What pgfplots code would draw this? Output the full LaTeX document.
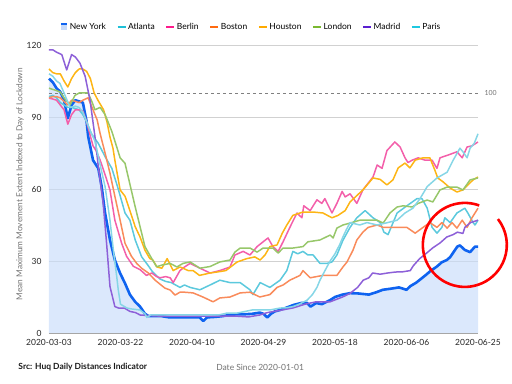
\documentclass[border=0pt]{standalone}
\usepackage{pgfplots}
\usepackage{pgfplotstable}
\pgfplotsset{compat=1.18}
\usepackage{fontspec}
\setmainfont{Lato}
\definecolor{nyblue}{HTML}{0F63F0}
\definecolor{nyfill}{HTML}{C8DCFA}
\definecolor{nyleg}{HTML}{C6DAFA}
\definecolor{cAtl}{HTML}{5CC9DD}
\definecolor{cPar}{HTML}{86D6E6}
\definecolor{cBer}{HTML}{F35FAA}
\definecolor{cBos}{HTML}{F98B5B}
\definecolor{cHou}{HTML}{FDB515}
\definecolor{cLon}{HTML}{97C76A}
\definecolor{cMad}{HTML}{8D60D8}
\definecolor{lAtl}{HTML}{1EC0D8}
\definecolor{lPar}{HTML}{1EC8E0}
\definecolor{lBer}{HTML}{FF1A8C}
\definecolor{lBos}{HTML}{FF6A10}
\definecolor{lHou}{HTML}{FFAA00}
\definecolor{lLon}{HTML}{7AB830}
\definecolor{lMad}{HTML}{5A20D0}
\pgfplotstableread{
x y
0 106
1 104.5
2 102
3 100.5
4 97
5 89.5
6 95
7 97
8 96.5
9 96
10 88
10.4 82
11.7 72
13.1 68.6
14 61
14.9 50
16.2 38.8
17.5 30.4
18.9 24.9
20.2 20.7
21.5 16
22.9 13
24.2 11
25.5 8
26.5 7
28 7
30 7
32 6.5
34 6.5
36 6.5
38 6.5
40 6.5
41 5
42 6.5
44 6.7
46 7
48 7.5
50 7.8
52 7.8
54 8
56 8.5
57 8
58 6.5
59 8
60 9
61.4 9.6
63 10.5
65 11.7
67 12.5
68.6 12.5
69.5 11
71 12.5
72.5 12
74.7 13.7
76 15
78 16
80 16.6
82 16.5
85 16
87 17
88.7 18
91 18.5
93 19
95 18
96 19.5
97.6 21
100 24
101.5 26
103 27.6
104.4 29.5
105.7 30.4
106.6 31.6
107.5 33.7
108.5 36
109.2 36.5
110.5 34.6
111.9 33.7
113.2 36
114 36
}\nydata
\begin{document}
\begin{tikzpicture}
\useasboundingbox (0,0) rectangle (512bp,384bp);
\begin{axis}[
  at={(49bp,51bp)}, anchor=south west,
  scale only axis, width=429bp, height=288bp,
  xmin=0, xmax=114, ymin=0, ymax=120,
  clip=false,
  axis lines*=left,
  x axis line style={draw=black!35, line width=0.8bp},
  y axis line style={draw=none},
  ymajorgrids, grid style={draw=black!18, line width=0.7bp},
  major tick length=0pt,
  xtick={0,19,38,57,76,95,114},
  xticklabels={2020-03-03,2020-03-22,2020-04-10,2020-04-29,2020-05-18,2020-06-06,2020-06-25},
  ytick={0,30,60,90,120},
  /pgf/number format/assume math mode=true,
  tick label style={font=\fontsize{8.5}{10}\selectfont, text=black!85},
  xticklabel style={yshift=-2.5bp},
  yticklabel style={xshift=-4bp},
  xlabel={Date Since 2020-01-01},
  xlabel style={at={(axis description cs:0.492,-0.118)}, anchor=center, font=\fontsize{8.5}{10}\selectfont, text=black!55},
  ylabel={Mean Maximum Movement Extent Indexed to Day of Lockdown},
  ylabel style={at={(axis description cs:-0.0676,0.517)}, anchor=center, font=\fontsize{8.3}{10}\selectfont, text=black!55},
  legend columns=8,
  legend style={at={(axis description cs:0.472,1.0625)}, anchor=center, draw=none, fill=none,
    font=\fontsize{8.5}{10}\selectfont, /tikz/every even column/.append style={column sep=9bp}},
  legend cell align=left,
]
\addplot[draw=none, fill=nyfill, fill opacity=0.65, forget plot] table[x=x,y=y]{\nydata} \closedcycle;
\addplot[forget plot, draw=black!50, line width=0.8bp, dash pattern=on 3bp off 3bp] coordinates {(0,100)(114,100)};
\addplot[nyblue, line width=2.6bp, line join=round,
  legend image code/.code={\path[fill=nyleg, draw=none] (1bp,-3.5bp) rectangle (7bp,3bp); \path[draw=nyblue, line width=1.2bp, solid] (1bp,3bp) -- (7bp,3bp);}]
  table[x=x,y=y]{\nydata};
\addlegendentry{New York}
\addplot[cAtl, line width=1.5bp, line join=round,
  legend image code/.code={\draw[lAtl, line width=1.2bp] (0bp,0bp) -- (8bp,0bp);}]
  coordinates {(0,98.5)(1,99)(2,98)(3,96)(4,95)(5,94)(6,94)(7,93.5)(8,93)(9,91)(10,88)(11.3,83)(13.1,79)(14.9,73.5)(16.7,68.6)(18.4,60)(20.2,50)(21.5,47)(22.9,38.8)(24.6,31.8)(26.4,28)(27.5,25.5)(29.5,22.5)(31,21.5)(32.5,21)(34.8,19)(36,20)(37.5,19)(40.1,18)(42.8,20)(45.4,22)(48.1,21)(50.8,21)(53.4,18)(54.2,16)(56.1,21)(58.7,19)(61.4,22)(63.2,26)(64.8,34)(66.1,33)(67.5,34)(68.8,32.5)(70.2,32.5)(72,29)(73.9,29)(75.2,29.6)(76.5,32.5)(78.1,38.6)(80,44)(81.8,48)(84,51)(86.1,48)(88,46)(89,42)(90.1,41)(92.5,50)(95.1,53)(97.8,56)(99.1,56)(100.5,52)(101.8,44)(103.1,41.6)(104.4,44)(105.2,48)(106.6,46)(108.4,50)(110.5,52)(111.3,50)(112.7,46)(113.2,45)(114,47)};
\addlegendentry{Atlanta}
\addplot[cBer, line width=1.5bp, line join=round,
  legend image code/.code={\draw[lBer, line width=1.2bp] (0bp,0bp) -- (8bp,0bp);}]
  coordinates {(0,97.9)(1,97.5)(2,97)(3,95)(4,93)(5,87)(6,91)(7,93)(8,93)(9,92.5)(10,88)(11,82)(11.7,78)(12.5,76)(13.6,72)(14.9,66)(16.2,59.6)(17.5,47)(19.3,37.4)(20.6,32)(22.4,27.8)(24.2,26.4)(25.9,24)(27.3,25)(28.6,23.5)(29.5,23)(31,23.5)(32.2,23)(33,21)(34.8,26)(36,27.5)(37.5,29)(40.1,27)(42.8,25)(45.4,26)(48.1,27.5)(49.4,32.5)(51.6,34)(53.4,32.5)(55.3,36)(56.9,38)(58.2,39.6)(59.5,36)(60.9,34)(62.2,38)(64,44)(65.9,50)(67.2,48)(67.7,53)(69.4,51)(71.2,55.5)(72.5,54)(73.3,56)(75.2,50)(76.5,54)(77.9,59)(78.7,56.7)(80,58)(81.8,54)(83.4,59.6)(86.1,65)(87.2,70)(88.5,68.6)(89.8,76)(91.9,79.6)(93.3,77.5)(94.6,73)(95.4,71)(96.5,72)(98.1,73)(99.9,72)(101.8,72)(103.1,68.6)(103.9,73)(105.8,74)(108.4,75.5)(109.8,73)(111.1,77.5)(112.4,78)(114,79.6)};
\addlegendentry{Berlin}
\addplot[cBos, line width=1.5bp, line join=round,
  legend image code/.code={\draw[lBos, line width=1.2bp] (0bp,0bp) -- (8bp,0bp);}]
  coordinates {(0,98)(1,98.5)(2,98.5)(3,98)(4,96.5)(5,95)(6,97)(7,96.5)(8,96)(9,97)(10.4,98)(11.7,93)(12.8,88.75)(13.6,83)(14.9,75)(16.2,66.6)(17.5,57)(18.9,47)(20.2,37.4)(21.9,32)(23.3,29)(24.6,27)(26.4,25)(28.2,22)(30.8,18.7)(32.2,17.9)(33.5,15.8)(34.8,17)(36,17)(38.3,16.7)(40.9,15)(43.6,13)(45.4,14.6)(48.1,15)(50.8,16.7)(53.4,17)(56,15)(58.7,16)(60.6,19)(62.2,20)(64,22)(66.7,24)(67.5,26)(69.4,23)(72.8,24)(76.5,24)(78.1,27.5)(79.2,29.6)(80.8,34.6)(81.8,38.75)(83.4,42)(84.8,44)(87.2,45)(88.8,44)(92.5,44)(95.1,44)(97.3,41.6)(99.4,44)(101.2,46)(103.1,44)(104.4,46)(105.8,43.7)(107.1,46)(108.4,43.7)(109.8,47)(111.1,44)(112.4,48)(114,52)};
\addlegendentry{Boston}
\addplot[cHou, line width=1.5bp, line join=round,
  legend image code/.code={\draw[lHou, line width=1.2bp] (0bp,0bp) -- (8bp,0bp);}]
  coordinates {(0,110)(1,108.5)(2,108)(3,108)(4,105)(5,102.5)(6,106)(7,108.5)(8,110)(9,110)(10,109)(11,106)(12,100)(13,97)(14.5,93)(15.4,88)(16.2,81.7)(17,77)(17.5,72)(18.9,59.6)(20.2,57)(21.5,51)(22.9,44.3)(24.2,40)(25.5,34.5)(26.8,31)(27.6,30.4)(28.7,27.5)(30,27)(31.4,31)(33,26)(34.8,27.5)(35.6,27)(37,26)(38.3,26)(40,24)(42.8,25)(44.6,25.4)(47,26)(50,29.6)(52.6,31)(54.7,31.7)(56.1,30.4)(57.4,32.5)(58.7,36)(60.6,36.7)(62,41.6)(63.2,45)(64.8,49)(67.5,50.4)(70.2,50.4)(72.8,50)(75.2,48)(76.8,49)(78.7,51)(80,54.6)(83.4,59.6)(86.1,64.6)(88,64)(89.8,61.7)(91.4,63.8)(92.8,68.8)(94.6,70.8)(95.9,68.8)(97.3,72)(99.4,73)(101.2,73)(102.5,68)(103.3,64.6)(104.7,63)(106.6,60.4)(108.4,58.75)(110,59.6)(111.3,61.7)(112.7,63.8)(114,65)};
\addlegendentry{Houston}
\addplot[cLon, line width=1.5bp, line join=round,
  legend image code/.code={\draw[lLon, line width=1.2bp] (0bp,0bp) -- (8bp,0bp);}]
  coordinates {(0,102)(1,101.5)(2,101)(3,100.4)(4,98)(5.6,95)(6.9,99)(8,100)(9,100)(10.4,100)(11.5,96)(12.2,93)(13.6,94)(14.9,91)(16.7,84)(18.9,73)(20.2,70.7)(21.5,62)(22.9,52.6)(24.2,44.3)(25.5,36)(27.3,31)(28.6,27.6)(30,28.3)(32.2,29)(34,27.5)(35.6,29)(37.5,29.6)(40.1,27)(42.8,27.7)(45.4,29.6)(48.1,30.4)(49.4,33.7)(50.8,35.4)(53.4,35.4)(55.3,33.7)(56.9,35.4)(59.5,35.4)(60.9,33.3)(62.2,35.4)(64.8,35.4)(67.5,36)(68.8,38)(72,38.75)(74.7,40.8)(75.5,39.6)(76.5,43.7)(78.1,45)(80,45.8)(82.6,47)(86,47)(87.2,47)(88.8,45.8)(90.6,50)(92.5,52.5)(94.1,53)(96.5,52.5)(98.1,54)(100.5,55.4)(102,54.6)(103.9,59.6)(105.8,60.8)(108.4,60.8)(110,59.6)(111.9,63.8)(114,64.6)};
\addlegendentry{London}
\addplot[cMad, line width=1.5bp, line join=round,
  legend image code/.code={\draw[lMad, line width=1.2bp] (0bp,0bp) -- (8bp,0bp);}]
  coordinates {(0,118)(1,118)(2,117)(3.4,116)(4.7,109.6)(6,116)(7,115)(8.2,112.5)(9.6,107)(10.9,97)(12.2,82)(13.1,69.4)(14.4,54)(15.3,37.4)(16.2,19.4)(17.5,11)(18.5,10.4)(20,10.4)(21.5,9)(23,8.5)(24.2,7.5)(26,7.3)(30,7)(35,7)(40,7)(45,7)(50,7)(53,6.7)(56,7.5)(58,8.5)(62,9.6)(65,10.5)(68,12)(71,13)(74.7,13)(78,15)(80,16.5)(82,19)(83.5,22)(85,23)(86,25)(88,24.5)(90,25)(92,25.4)(94,25.5)(96,26)(96.8,28)(98.5,31)(100.5,33.5)(102,35.5)(103.9,37.5)(105.7,40)(107.4,41)(108.5,42)(110,41.5)(110.5,44)(112,46)(113,46.5)(114,47)};
\addlegendentry{Madrid}
\addplot[cPar, line width=1.5bp, line join=round,
  legend image code/.code={\draw[lPar, line width=1.2bp] (0bp,0bp) -- (8bp,0bp);}]
  coordinates {(0,108)(1,107)(2,105)(2.9,104)(4,100)(4.8,97)(5.6,94)(7,94.5)(8,94)(9,92)(10,88)(11,84)(12.2,80)(13.6,70)(14.9,61)(16.2,47)(17.1,34.6)(18,23.5)(18.4,18)(19,12)(20.7,10.4)(22,10)(24.2,9.6)(25.5,8)(26,6.5)(27,7.5)(30,7.5)(35,7.5)(40,7.5)(45,7.5)(47.3,8.3)(50,8.3)(54,9.6)(58.7,9.6)(61.4,10.4)(63,10.5)(64.8,11)(66.5,12)(68.6,13.7)(70,16)(71.2,19)(72,22)(73,25)(74.7,30)(76,33)(77.3,37)(78.1,40)(79,43)(80,46)(82.6,45)(84.5,46)(87.2,45)(90,46)(92.5,47)(94.6,50)(96.7,52)(98.6,56)(100.5,61)(103.1,64.6)(105.8,67)(107.4,72)(109.2,77)(110,75.5)(111.1,73)(111.9,77)(113,79)(114,83)};
\addlegendentry{Paris}
\node[anchor=west, font=\fontsize{7}{8}\selectfont, text=black!55, xshift=3bp] at (axis cs:114,100) {100};
\node[anchor=west, font=\fontsize{8.5}{10}\selectfont\bfseries, text=black!90] at (axis description cs:-0.0793,-0.118) {Src: Huq Daily Distances Indicator};
\draw[red, line width=2.6bp] (axis cs:114.32,53.15) arc[start angle=70, end angle=398, radius=42bp];
\end{axis}
\end{tikzpicture}
\end{document}
